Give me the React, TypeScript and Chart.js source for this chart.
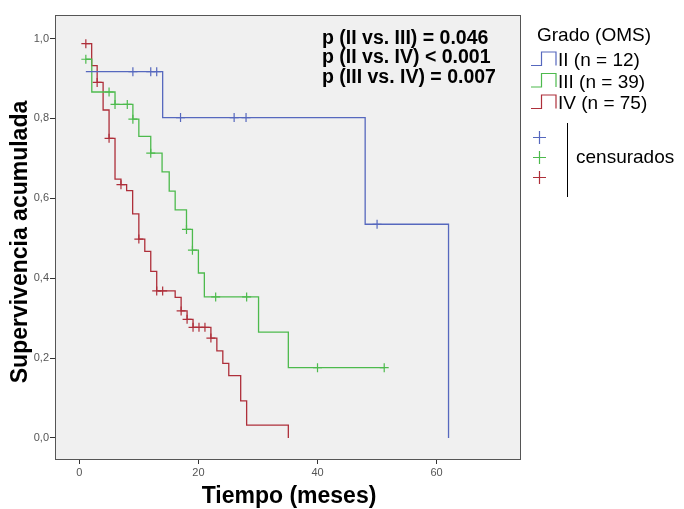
import React, { useEffect, useRef } from "react";
import { Chart, registerables } from "chart.js";

Chart.register(...registerables);

// ---- Data ----
const X_TICKS = [0, 20, 40, 60];
const Y_TICKS = [0, 0.2, 0.4, 0.6, 0.8, 1.0];

// Grado II (n = 12)
const II_TIMES = [1.1, 14, 48, 62];
const II_SURV = [0.917, 0.802, 0.535, 0.0];
const II_CENS = [9, 12, 13, 17, 26, 28, 50];

// Grado III (n = 39)
const III_TIMES = [1.1, 2.1, 6.0, 9.0, 10.0, 12.0, 13.9, 15.1, 16.1, 18.0, 19.0, 20.0, 21.0, 30.1, 35.1, 51.2];
const III_SURV = [0.948, 0.866, 0.835, 0.798, 0.755, 0.713, 0.666, 0.618, 0.571, 0.522, 0.47, 0.413, 0.353, 0.265, 0.176, 0.176];
const III_CENS = [1.1, 5.0, 6.0, 8.06, 9.0, 12.0, 18.0, 19.0, 22.9, 28.1, 40.0, 51.2];

// Grado IV (n = 75)
const IV_TIMES = [1.1, 2.08, 3.0, 4.0, 5.0, 6.0, 7.0, 7.95, 8.96, 10.0, 11.0, 12.0, 13.0, 16.1, 17.1, 18.1, 19.1, 22.1, 23.1, 24.1, 25.1, 27.1, 28.1, 35.1];
const IV_SURV = [0.987, 0.932, 0.89, 0.821, 0.75, 0.648, 0.634, 0.619, 0.561, 0.498, 0.467, 0.417, 0.368, 0.352, 0.318, 0.297, 0.277, 0.25, 0.218, 0.187, 0.156, 0.093, 0.032, 0.0];
const IV_CENS = [1.1, 3.0, 5.0, 7.0, 10.0, 13.0, 14.0, 17.1, 18.1, 19.1, 20.1, 21.1, 22.1];

const GROUP_LABELS = ["II (n = 12)", "III (n = 39)", "IV (n = 75)"];
const P_TEXTS = ["p (II vs. III) = 0.046", "p (II vs. IV) < 0.001", "p (III vs. IV) = 0.007"];

const COLORS = ["#5668BE", "#4DBA4D", "#AE2F3A"];
const FONT = "'Liberation Sans', Arial, sans-serif";

function curve(times: number[], surv: number[]) {
  return times.map((t, i) => ({ x: t, y: surv[i] }));
}
function censorPts(cens: number[], times: number[], surv: number[]) {
  return cens.map((c) => {
    let y = surv[0];
    for (let i = 0; i < times.length; i++) {
      if (times[i] <= c + 1e-6) y = surv[i];
    }
    return { x: c, y };
  });
}

const framePlugin = {
  id: "frame",
  beforeDatasetsDraw(chart: any) {
    const { ctx, chartArea: a } = chart;
    ctx.save();
    ctx.fillStyle = "#F0F0F0";
    ctx.fillRect(a.left, a.top, a.right - a.left, a.bottom - a.top);
    ctx.restore();
  },
  afterDraw(chart: any) {
    const { ctx, chartArea: a } = chart;
    ctx.save();
    ctx.strokeStyle = "#555";
    ctx.lineWidth = 1;
    ctx.strokeRect(Math.round(a.left) - 0.5, Math.round(a.top) + 0.5, Math.round(a.right - a.left) + 1, Math.round(a.bottom - a.top));

    // p-values
    ctx.fillStyle = "#000";
    ctx.font = `bold 19.5px ${FONT}`;
    ctx.textAlign = "left";
    ctx.textBaseline = "alphabetic";
    P_TEXTS.forEach((t, i) => ctx.fillText(t, 322, 44 + i * 19.3));

    // axis titles
    ctx.font = `bold 23px ${FONT}`;
    ctx.textAlign = "center";
    ctx.fillText("Tiempo (meses)", 289, 503);
    ctx.save();
    ctx.translate(27, 242);
    ctx.rotate(-Math.PI / 2);
    ctx.fillText("Supervivencia acumulada", 0, 0);
    ctx.restore();

    // legend
    ctx.font = `19px ${FONT}`;
    ctx.textAlign = "left";
    ctx.fillStyle = "#000";
    ctx.fillText("Grado (OMS)", 537, 41);
    const baseY = [66, 87.5, 109];
    GROUP_LABELS.forEach((lbl, i) => {
      const by = baseY[i];
      ctx.strokeStyle = COLORS[i];
      ctx.lineWidth = 1.2;
      ctx.beginPath();
      ctx.moveTo(531, by - 0.5);
      ctx.lineTo(541.5, by - 0.5);
      ctx.lineTo(541.5, by - 14);
      ctx.lineTo(556, by - 14);
      ctx.lineTo(556, by - 0.5);
      ctx.stroke();
      ctx.fillStyle = "#000";
      ctx.fillText(lbl, 558, by);
    });
    const crossY = [137, 157, 177];
    crossY.forEach((cy, i) => {
      ctx.strokeStyle = COLORS[i];
      ctx.lineWidth = 1.2;
      ctx.beginPath();
      ctx.moveTo(533, cy + 0.5);
      ctx.lineTo(546, cy + 0.5);
      ctx.moveTo(539.5, cy - 6);
      ctx.lineTo(539.5, cy + 7);
      ctx.stroke();
    });
    ctx.strokeStyle = "#000";
    ctx.lineWidth = 1;
    ctx.beginPath();
    ctx.moveTo(567.5, 123);
    ctx.lineTo(567.5, 197);
    ctx.stroke();
    ctx.fillStyle = "#000";
    ctx.fillText("censurados", 576, 163);
    ctx.restore();
  },
};

export default function App() {
  const ref = useRef<HTMLCanvasElement | null>(null);
  useEffect(() => {
    document.body.style.margin = "0";
    const canvas = ref.current!;
    const groups = [
      [II_TIMES, II_SURV, II_CENS],
      [III_TIMES, III_SURV, III_CENS],
      [IV_TIMES, IV_SURV, IV_CENS],
    ];
    const datasets: any[] = [];
    groups.forEach((g, i) => {
      datasets.push({
        label: GROUP_LABELS[i],
        data: curve(g[0], g[1]),
        showLine: true,
        stepped: true,
        borderColor: COLORS[i],
        borderWidth: 1.3,
        pointRadius: 0,
        fill: false,
      });
      datasets.push({
        label: GROUP_LABELS[i] + " censurados",
        data: censorPts(g[2], g[0], g[1]),
        showLine: false,
        pointStyle: "cross",
        pointRadius: 4.5,
        borderColor: COLORS[i],
        borderWidth: 1.2,
        backgroundColor: COLORS[i],
      });
    });
    const tickFont = { family: FONT, size: 11 };
    const chart = new Chart(canvas, {
      type: "scatter",
      data: { datasets },
      options: {
        animation: false,
        responsive: false,
        maintainAspectRatio: false,
        layout: { padding: { left: 0, right: 164, top: 15, bottom: 0 } },
        plugins: { legend: { display: false }, tooltip: { enabled: false } },
        scales: {
          x: {
            type: "linear",
            min: -3.91,
            max: 74.0,
            afterFit: (s: any) => {
              s.height = 50;
            },
            afterBuildTicks: (s: any) => {
              s.ticks = X_TICKS.map((v) => ({ value: v }));
            },
            grid: { drawOnChartArea: false, drawTicks: true, tickLength: 5, tickColor: "#333", tickWidth: 1 },
            border: { display: false },
            ticks: { font: tickFont, color: "#555", padding: 2, maxRotation: 0, autoSkip: false },
          },
          y: {
            type: "linear",
            min: -0.0526,
            max: 1.0588,
            afterFit: (s: any) => {
              s.width = 56;
            },
            afterBuildTicks: (s: any) => {
              s.ticks = Y_TICKS.map((v) => ({ value: v }));
            },
            grid: { drawOnChartArea: false, drawTicks: true, tickLength: 6, tickColor: "#333", tickWidth: 1 },
            border: { display: false },
            ticks: {
              font: tickFont,
              color: "#555",
              padding: 1,
              autoSkip: false,
              callback: (v: any) => Number(v).toFixed(1).replace(".", ","),
            },
          },
        },
      },
      plugins: [framePlugin],
    });
    return () => chart.destroy();
  }, []);
  return (
    <div style={{ width: 684, height: 509, position: "relative" }}>
      <canvas ref={ref} width={684} height={509} style={{ display: "block" }} />
    </div>
  );
}
